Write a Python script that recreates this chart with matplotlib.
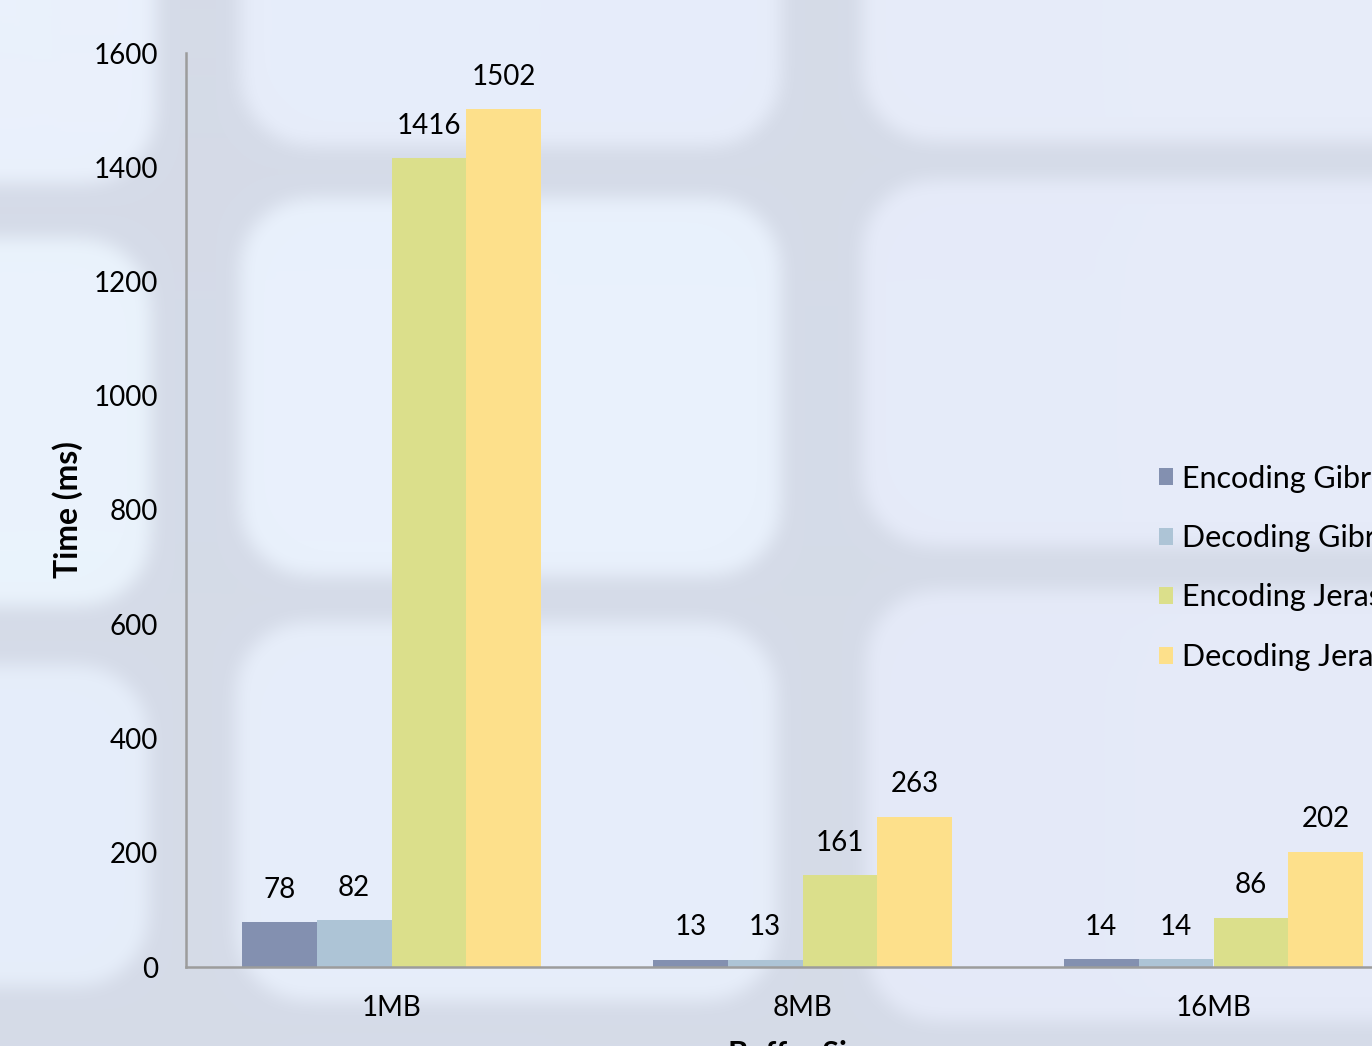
import matplotlib
matplotlib.use("Agg")
import matplotlib.pyplot as plt
import numpy as np

plt.rcParams['font.family'] = ['Lato', 'DejaVu Sans']

sizes = ["1MB", "8MB", "16MB"]
series = ["Encoding Gibraltar", "Decoding Gibraltar", "Encoding Jerasure", "Decoding Jerasure"]
enc_gibraltar = [78, 13, 14]
dec_gibraltar = [82, 13, 14]
enc_jerasure = [1416, 161, 86]
dec_jerasure = [1502, 263, 202]
colors = ["#8390b0", "#adc4d6", "#dbdf8b", "#fde08b"]

W, H = 1372, 1046


def box_blur(a, k, axis):
    pad = k // 2
    widths = [(pad, pad) if i == axis else (0, 0) for i in range(a.ndim)]
    ap = np.pad(a, widths, mode='edge')
    c = np.cumsum(ap, axis=axis)
    c = np.insert(c, 0, 0, axis=axis)
    n = a.shape[axis]
    return (np.take(c, np.arange(k, k + n), axis=axis)
            - np.take(c, np.arange(0, n), axis=axis)) / k


def backdrop():
    # soft tiled backdrop: rounded panels separated by grey-blue gutters
    img = np.empty((H, W, 3))
    img[:] = np.array([213, 219, 232]) / 255
    yy, xx = np.mgrid[0:H, 0:W]
    panels = [
        (-80, -80, 155, 182, (234, 241, 252)),
        (-80, 238, 150, 605, (234, 243, 252)),
        (-80, 665, 148, 985, (230, 238, 250)),
        (240, -80, 780, 145, (231, 237, 250)),
        (240, 198, 780, 575, (233, 241, 252)),
        (236, 622, 776, 1000, (231, 238, 250)),
        (862, -80, 1450, 140, (231, 236, 249)),
        (862, 180, 1450, 545, (230, 235, 249)),
        (866, 590, 1450, 1020, (229, 234, 248)),
    ]
    r = 70
    for x0, y0, x1, y1, col in panels:
        dx = np.maximum(np.maximum(x0 + r - xx, 0), xx - (x1 - r))
        dy = np.maximum(np.maximum(y0 + r - yy, 0), yy - (y1 - r))
        m = (dx ** 2 + dy ** 2) <= r ** 2
        img[m] = np.array(col) / 255
    for _ in range(3):
        img = box_blur(img, 17, 0)
        img = box_blur(img, 17, 1)
    return np.clip(img, 0, 1)


fig = plt.figure(figsize=(W / 100, H / 100), dpi=100)

bg = fig.add_axes([0, 0, 1, 1], zorder=-1)
bg.imshow(backdrop(), aspect='auto', interpolation='nearest')
bg.axis('off')

ax = fig.add_axes([186 / W, 79 / H, 1233 / W, 914 / H], zorder=1)
ax.set_facecolor('none')

x = np.arange(len(sizes))
w = 0.182
data = [enc_gibraltar, dec_gibraltar, enc_jerasure, dec_jerasure]
for i, (vals, name, c) in enumerate(zip(data, series, colors)):
    bars = ax.bar(x + (i - 1.5) * w, vals, w, color=c, label=name, zorder=2)
    for b, v in zip(bars, vals):
        ax.annotate(str(v), (b.get_x() + b.get_width() / 2, v),
                    xytext=(0, 14), textcoords='offset points',
                    ha='center', va='bottom', fontsize=20)

ax.set_xlim(-0.5, 2.5)
ax.set_ylim(0, 1600)
ax.set_yticks(range(0, 1601, 200))
ax.set_xticks(x)
ax.set_xticklabels(sizes)
ax.tick_params(axis='both', length=0, labelsize=20, pad=20)

for s in ['top', 'right']:
    ax.spines[s].set_visible(False)
for s in ['left', 'bottom']:
    ax.spines[s].set_color('#9c9c9c')
    ax.spines[s].set_linewidth(1.8)

ax.set_ylabel("Time (ms)", fontsize=23, fontweight='bold', labelpad=8)
ax.set_xlabel("Buffer Size", fontsize=22, fontweight='bold', labelpad=14)

leg = fig.legend(loc='upper left', bbox_to_anchor=(1131 / W, 1 - 437 / H),
                 frameon=False, fontsize=22, handlelength=0.48, handleheight=0.48,
                 handletextpad=0.28, labelspacing=1.03)
leg.set_zorder(3)

fig.savefig("out.png", dpi=100)
